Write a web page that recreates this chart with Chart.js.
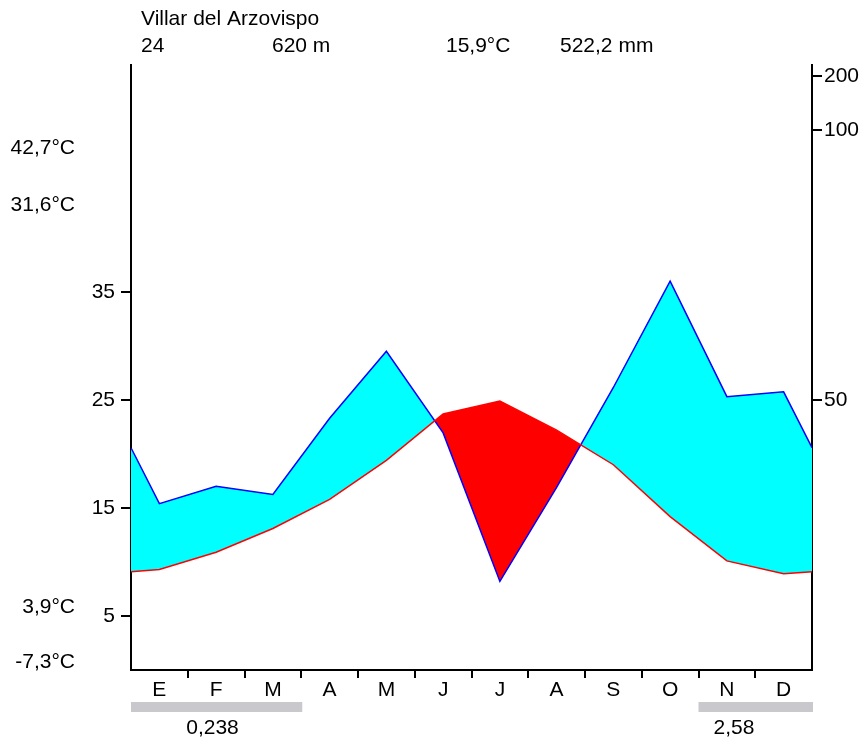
<!DOCTYPE html>
<html>
<head>
<meta charset="utf-8">
<script src="https://cdn.jsdelivr.net/npm/chart.js@4/dist/chart.umd.min.js"></script>
<style>
  html, body { margin: 0; padding: 0; background: #fff; }
  #wrap { width: 864px; height: 742px; }
</style>
</head>
<body>
<div id="wrap"><canvas id="c" width="864" height="742"></canvas></div>
<script>
// ---- data ----
const months = ['E','F','M','A','M','J','J','A','S','O','N','D'];
const temperature = [9.3, 10.9, 13.1, 15.8, 19.4, 23.7, 24.9, 22.2, 19.0, 14.2, 10.1, 8.9];
const precipitation = [30.8, 34.0, 32.5, 46.6, 59.0, 43.9, 16.4, 33.8, 52.3, 72.0, 50.6, 51.5];
const tempTicks = [5, 15, 25, 35];
const precipTicks = [50, 100, 200];
const stationName = 'Villar del Arzovispo';
const stationYears = '24';
const stationAltitude = '620 m';
const meanTemp = '15,9°C';
const annualPrecip = '522,2 mm';
const sideLabels = ['42,7°C', '31,6°C', '3,9°C', '-7,3°C'];
const frostStart = [0, 10];
const frostEnd = [3, 12];
const frostLabels = ['0,238', '2,58'];

// ---- helpers ----
const mmToScale = mm => mm <= 100 ? mm / 2 : 50 + (mm - 100) / 20;
const scaleToMm = v => v <= 50 ? v * 2 : 100 + (v - 50) * 20;
function series(arr, conv) {
  const pts = [];
  const edge = conv((arr[0] + arr[arr.length - 1]) / 2);
  pts.push({ x: 0, y: edge });
  arr.forEach((v, i) => pts.push({ x: i + 0.5, y: conv(v) }));
  pts.push({ x: arr.length, y: edge });
  return pts;
}
const FONT = { family: '"Liberation Sans", Arial, sans-serif', size: 21 };

const textPlugin = {
  id: 'texts',
  afterDraw(chart) {
    const ctx = chart.ctx;
    const xs = chart.scales.x;
    ctx.save();
    ctx.fillStyle = '#000';
    ctx.font = '21px "Liberation Sans", Arial, sans-serif';
    ctx.textBaseline = 'middle';
    ctx.textAlign = 'left';
    ctx.fillText(stationName, 141, 19);
    ctx.fillText(stationYears, 141, 46);
    ctx.fillText(stationAltitude, 272, 46);
    ctx.fillText(meanTemp, 446, 46);
    ctx.fillText(annualPrecip, 560, 46);
    ctx.textAlign = 'right';
    const sideY = [148, 205, 607, 662];
    sideLabels.forEach((t, i) => ctx.fillText(t, 75, sideY[i]));
    // frost bars
    ctx.fillStyle = '#c9c8cc';
    const labelX = [212.5, 734];
    frostStart.forEach((s, i) => {
      const x0 = xs.getPixelForValue(s);
      const x1 = xs.getPixelForValue(frostEnd[i]);
      ctx.fillRect(x0, 702, x1 - x0 + 1, 10);
    });
    ctx.fillStyle = '#000';
    ctx.textAlign = 'center';
    frostLabels.forEach((t, i) => ctx.fillText(t, labelX[i], 728));
    ctx.restore();
  }
};

new Chart(document.getElementById('c'), {
  type: 'line',
  data: {
    datasets: [
      {
        label: 'Temperatura',
        data: series(temperature, v => v),
        borderColor: '#ff0000',
        borderWidth: 1.5,
        pointRadius: 0,
        tension: 0,
        fill: false,
        yAxisID: 'y'
      },
      {
        label: 'Precipitación',
        data: series(precipitation, mmToScale),
        borderColor: '#0000ff',
        borderWidth: 1.5,
        pointRadius: 0,
        tension: 0,
        fill: { target: 0, above: '#00ffff', below: '#ff0000' },
        yAxisID: 'y'
      }
    ]
  },
  options: {
    responsive: false,
    animation: false,
    events: [],
    layout: { padding: { top: 65, left: 0, right: 0, bottom: 0 } },
    plugins: { legend: { display: false }, tooltip: { enabled: false }, title: { display: false } },
    scales: {
      x: {
        type: 'linear',
        min: 0, max: 12,
        position: 'bottom',
        afterBuildTicks(s) {
          const t = [];
          for (let i = 0; i <= 24; i++) t.push({ value: i / 2 });
          s.ticks = t;
        },
        afterFit(s) { s.height = 72; },
        ticks: {
          autoSkip: false, maxRotation: 0, padding: 0,
          color: '#000', font: FONT,
          callback(v) { return (v % 1 === 0.5) ? months[Math.floor(v)] : ''; }
        },
        grid: {
          drawOnChartArea: false, tickLength: 8, lineWidth: 2,
          tickColor: c => (c.tick && c.tick.value % 1 === 0 && c.tick.value > 0 && c.tick.value < 12) ? '#000' : 'rgba(0,0,0,0)'
        },
        border: { display: true, color: '#000', width: 2 }
      },
      y: {
        type: 'linear',
        position: 'left',
        min: 0, max: 56,
        afterBuildTicks(s) { s.ticks = tempTicks.map(v => ({ value: v })); },
        afterFit(s) { s.width = 131; },
        ticks: { color: '#000', font: FONT, padding: 6 },
        grid: { drawOnChartArea: false, tickLength: 10, lineWidth: 2, tickColor: '#000' },
        border: { display: true, color: '#000', width: 2 }
      },
      y2: {
        type: 'linear',
        position: 'right',
        min: 0, max: 56,
        afterBuildTicks(s) { s.ticks = precipTicks.map(mm => ({ value: mmToScale(mm) })); },
        afterFit(s) { s.width = 52; },
        ticks: { color: '#000', font: FONT, padding: 2, callback(v) { return String(Math.round(scaleToMm(v))); } },
        grid: { drawOnChartArea: false, tickLength: 10, lineWidth: 2, tickColor: '#000' },
        border: { display: true, color: '#000', width: 2 }
      }
    }
  },
  plugins: [textPlugin]
});
</script>
</body>
</html>
